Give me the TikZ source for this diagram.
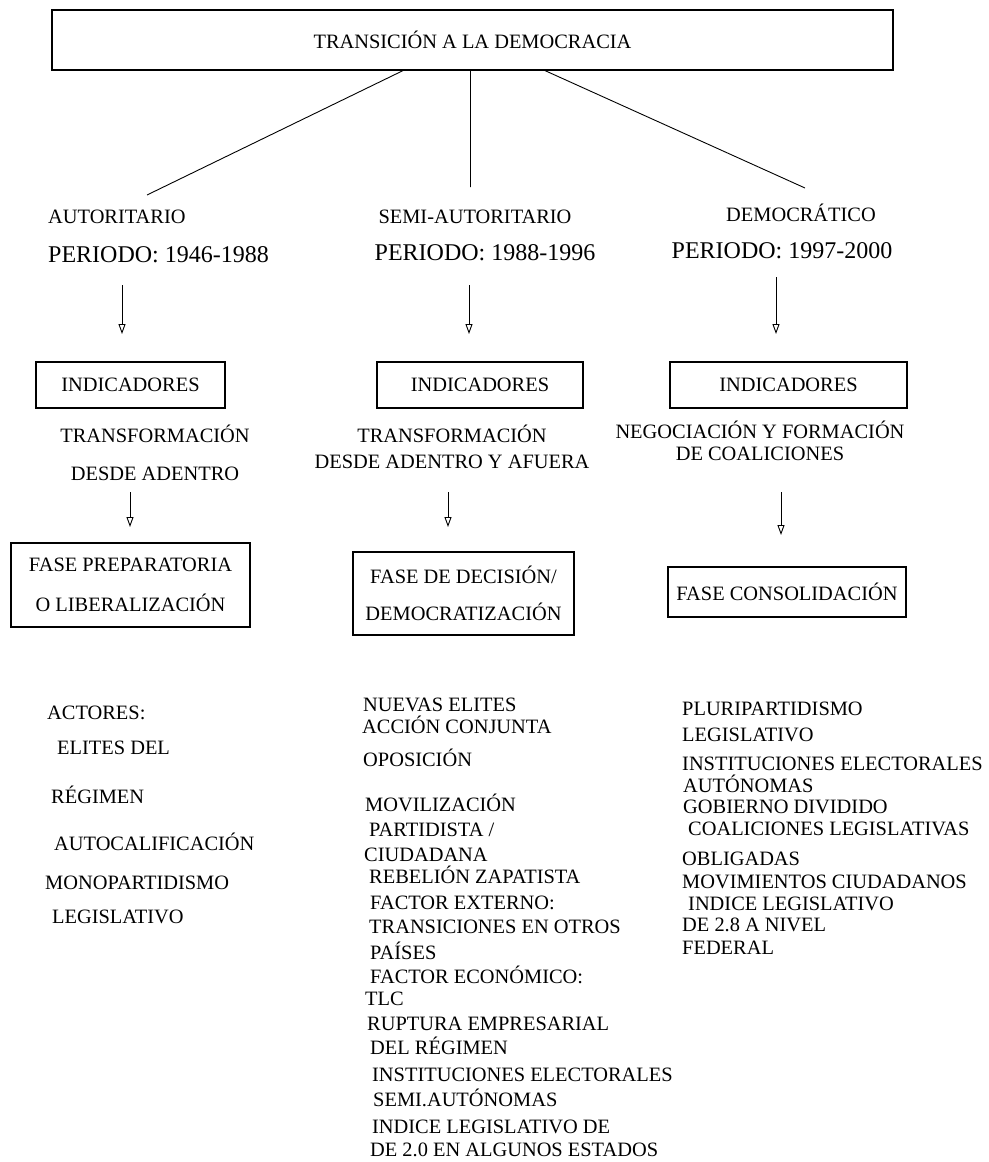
\documentclass[tikz,border=0pt]{standalone}
\usepackage{fontspec}
\setmainfont{Liberation Serif}
\usetikzlibrary{positioning,arrows.meta}

\begin{document}
\begin{tikzpicture}[x=1pt,y=-1pt,>={Triangle[open,length=10pt,width=7pt]},
    caja/.style={draw,line width=1.2pt,inner sep=0pt,align=center,font=\fontsize{20.4}{24}\selectfont},
    txt/.style={inner sep=0pt,text height=13.5pt,text depth=0pt,font=\fontsize{20.4}{24}\selectfont},
    per/.style={inner sep=0pt,text height=16pt,text depth=0pt,font=\fontsize{24}{28}\selectfont},
    item/.style={txt,anchor=west},
    bloque/.style={inner sep=0pt,align=center}]
  \useasboundingbox (0,0) rectangle (988,1162);

  % titulo y ramas
  \node[caja,minimum width=841pt,minimum height=60pt] (titulo) at (472.5,40) {TRANSICIÓN A LA DEMOCRACIA};
  \coordinate (r1) at (147,195);
  \coordinate (r2) at (470.5,187);
  \coordinate (r3) at (805,188);
  \draw[line width=0.9pt] ([xshift=-69.5pt]titulo.south) -- (r1)
    ([xshift=-2pt]titulo.south) -- (r2)
    ([xshift=72.5pt]titulo.south) -- (r3);

  % periodos
  \node[txt,anchor=west] (aut) at (48,217) {AUTORITARIO};
  \node[per,anchor=west] (per1) at (48,254) {PERIODO: 1946-1988};
  \node[txt] (semi) at (475,217) {SEMI-AUTORITARIO};
  \node[per] (per2) at (485,252) {PERIODO: 1988-1996};
  \node[txt] (dem) at (801,215) {DEMOCRÁTICO};
  \node[per] (per3) at (782,250) {PERIODO: 1997-2000};

  % flechas
  \foreach \x/\ya/\yb [count=\i] in {122/285/334, 469/285/334, 776/277/334,
      130/492/527, 448/492/527, 781/492/535}{
    \coordinate (fa\i) at (\x,\ya);
    \coordinate (fb\i) at (\x,\yb);
    \draw[->,line width=0.9pt] (fa\i) -- (fb\i);
  }

  % indicadores
  \node[caja,minimum width=189pt,minimum height=46pt] (ind1) at (130.5,385) {INDICADORES};
  \node[caja,minimum width=206pt,minimum height=46pt] (ind2) at (480,385) {INDICADORES};
  \node[caja,minimum width=237pt,minimum height=46pt] (ind3) at (788.5,385) {INDICADORES};

  \node[bloque,font=\fontsize{20.4}{38}\selectfont] (tr1) at (155,453) {TRANSFORMACIÓN\\DESDE ADENTRO};
  \node[bloque,font=\fontsize{20.4}{26}\selectfont] (tr2) at (452,447) {TRANSFORMACIÓN\\DESDE ADENTRO Y AFUERA};
  \node[bloque,font=\fontsize{20.4}{22}\selectfont] (tr3) at (760,441) {NEGOCIACIÓN Y FORMACIÓN\\DE COALICIONES};

  % fases
  \node[caja,font=\fontsize{20.4}{40}\selectfont,minimum width=239pt,minimum height=84pt] (fase1) at (130.5,585) {FASE PREPARATORIA\\O LIBERALIZACIÓN};
  \node[caja,font=\fontsize{20.4}{37}\selectfont,minimum width=221pt,minimum height=83pt] (fase2) at (463.5,593.5) {FASE DE DECISIÓN/\\DEMOCRATIZACIÓN};
  \node[caja,minimum width=238pt,minimum height=50pt] (fase3) at (787,592) {FASE CONSOLIDACIÓN};

  % listas
  \foreach \x/\y/\t [count=\i] in {47/713/ACTORES:, 57/748/ELITES DEL, 51/797/RÉGIMEN,
      54/844/AUTOCALIFICACIÓN, 45/883/MONOPARTIDISMO, 52/917/LEGISLATIVO}
    \node[item] (izq\i) at (\x,\y) {\t};
  \foreach \x/\y/\t [count=\i] in {363/705/NUEVAS ELITES, 362/727/ACCIÓN CONJUNTA,
      363/760/OPOSICIÓN, 365/805/MOVILIZACIÓN, 369/830/{PARTIDISTA /},
      364/855/CIUDADANA, 369/877/REBELIÓN ZAPATISTA, 370/903/FACTOR EXTERNO:,
      369/927/TRANSICIONES EN OTROS, 370/953/PAÍSES, 370/977/FACTOR ECONÓMICO:,
      365/999/TLC, 367/1024/RUPTURA EMPRESARIAL, 370/1048/DEL RÉGIMEN,
      372/1075/INSTITUCIONES ELECTORALES, 373/1100/SEMI.AUTÓNOMAS,
      372/1127/INDICE LEGISLATIVO DE, 370/1150/DE 2.0 EN ALGUNOS ESTADOS}
    \node[item] (cen\i) at (\x,\y) {\t};
  \foreach \x/\y/\t [count=\i] in {682/709/PLURIPARTIDISMO, 682/735/LEGISLATIVO,
      682/764/INSTITUCIONES ELECTORALES, 683/786/AUTÓNOMAS, 683/807/GOBIERNO DIVIDIDO,
      688/829/COALICIONES LEGISLATIVAS, 682/859/OBLIGADAS, 682/882/MOVIMIENTOS CIUDADANOS,
      688/904/INDICE LEGISLATIVO, 682/925/DE 2.8 A NIVEL, 682/948/FEDERAL}
    \node[item] (der\i) at (\x,\y) {\t};
\end{tikzpicture}
\end{document}
